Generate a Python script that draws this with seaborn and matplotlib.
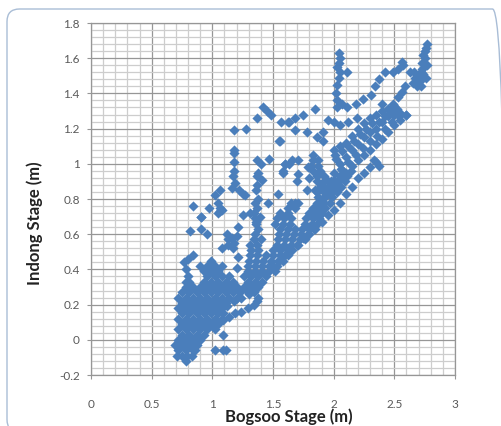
import numpy as np
import pandas as pd
import matplotlib.pyplot as plt
from matplotlib.patches import FancyBboxPatch
import seaborn as sns

x_ticks = [0, 0.5, 1, 1.5, 2, 2.5, 3]
x_tick_labels = ["0", "0.5", "1", "1.5", "2", "2.5", "3"]
y_ticks = [-0.2, 0, 0.2, 0.4, 0.6, 0.8, 1, 1.2, 1.4, 1.6, 1.8]
y_tick_labels = ["-0.2", "0", "0.2", "0.4", "0.6", "0.8", "1", "1.2", "1.4", "1.6", "1.8"]

row_y = [-0.12, -0.09, -0.06, -0.03, 0.0, 0.03, 0.06, 0.09, 0.12, 0.15, 0.18, 0.21, 0.24, 0.27, 0.30, 0.33,
         0.36, 0.39, 0.42, 0.45, 0.48, 0.51, 0.54, 0.57, 0.60, 0.63, 0.66, 0.69, 0.72, 0.75, 0.78, 0.81,
         0.84, 0.87, 0.90, 0.93, 0.96, 0.99, 1.02]
row_x = [
    [0.78],
    [0.71, 0.75, 0.79, 0.83],
    [0.72, 0.78, 0.84],
    [0.69, 0.75, 0.81, 0.87],
    [0.72, 0.78, 0.84, 0.90],
    [0.75, 0.81, 0.87, 0.93],
    [0.72, 0.78, 0.84, 0.90, 0.96, 1.02],
    [0.75, 0.81, 0.87, 0.93, 0.99, 1.05],
    [0.72, 0.78, 0.84, 0.90, 0.96, 1.02, 1.08],
    [0.75, 0.81, 0.87, 0.93, 0.99, 1.05, 1.09],
    [0.72, 0.78, 0.84, 0.90, 0.96, 1.02, 1.08],
    [0.75, 0.81, 0.87, 0.93, 0.99, 1.05, 1.11],
    [0.72, 0.78, 0.84, 0.90, 0.96, 1.02, 1.08, 1.14, 1.20],
    [0.75, 0.81, 0.87, 0.93, 0.99, 1.05, 1.11, 1.17, 1.23, 1.29],
    [0.78, 0.84, 0.90, 0.96, 1.02, 1.08, 1.14, 1.20, 1.26, 1.32, 1.38],
    [0.81, 0.93, 0.99, 1.05, 1.11, 1.17, 1.29, 1.35, 1.41],
    [0.96, 1.02, 1.08, 1.14, 1.26, 1.32, 1.38, 1.44],
    [0.93, 0.99, 1.05, 1.29, 1.35, 1.41, 1.47, 1.52],
    [0.96, 1.02, 1.08, 1.29, 1.35, 1.41, 1.47, 1.53],
    [0.99, 1.30, 1.36, 1.42, 1.48, 1.54, 1.58],
    [1.31, 1.37, 1.44, 1.50, 1.56, 1.62],
    [1.32, 1.38, 1.50, 1.56, 1.62, 1.66],
    [1.31, 1.37, 1.53, 1.59, 1.65, 1.71],
    [1.34, 1.40, 1.54, 1.60, 1.66, 1.72, 1.76],
    [1.35, 1.55, 1.61, 1.67, 1.73, 1.79],
    [1.38, 1.56, 1.62, 1.68, 1.74, 1.80, 1.84],
    [1.36, 1.52, 1.58, 1.64, 1.76, 1.82, 1.86],
    [1.35, 1.53, 1.59, 1.65, 1.77, 1.83, 1.88],
    [1.56, 1.62, 1.80, 1.86, 1.90],
    [1.62, 1.68, 1.83, 1.89, 1.93],
    [1.65, 1.71, 1.86, 1.92, 1.97],
    [1.87, 1.93, 1.99],
    [1.86, 1.92, 1.98, 2.03],
    [1.89, 1.95, 2.01, 2.06],
    [1.86, 1.92, 1.98, 2.04, 2.09],
    [1.86, 1.92, 2.05, 2.11],
    [1.83, 1.89, 2.08, 2.14],
    [1.81, 1.87],
    [1.83, 1.87],
]

# lower separate strand
low_x = [1.50, 1.55, 1.60, 1.65, 1.70, 1.75, 1.80, 1.85, 1.90, 1.95, 2.00, 2.05, 2.10, 2.15, 2.20, 2.25, 2.30, 2.35, 2.37, 2.33]
low_y = [0.42, 0.45, 0.48, 0.51, 0.54, 0.58, 0.60, 0.63, 0.67, 0.71, 0.74, 0.78, 0.83, 0.87, 0.92, 0.95, 0.98, 1.01, 0.99, 1.02]

# the loop near x = 1.2
loop_x = [1.09, 1.14, 1.19, 1.24, 1.29, 1.34, 1.37, 1.38, 1.12, 1.18, 1.24, 1.30, 1.34]
loop_y = [0.11, 0.13, 0.15, 0.16, 0.18, 0.20, 0.22, 0.24, 0.19, 0.22, 0.24, 0.26, 0.27]

# upper strands of the main band
band1_x = [1.85, 1.90, 1.95, 2.00, 2.05, 2.10, 2.15, 2.20, 2.25, 2.30, 2.35, 2.40, 2.45, 2.50, 2.55]
band1_y = [0.85, 0.88, 0.90, 0.95, 1.00, 1.04, 1.08, 1.11, 1.15, 1.18, 1.20, 1.24, 1.27, 1.28, 1.29]
band2_x = [1.90, 1.95, 2.00, 2.05, 2.10, 2.15, 2.20, 2.25, 2.30, 2.35, 2.40, 2.45, 2.50, 2.55, 2.60]
band2_y = [0.80, 0.84, 0.88, 0.92, 0.95, 0.99, 1.02, 1.05, 1.08, 1.11, 1.14, 1.18, 1.22, 1.25, 1.28]
band3_x = [2.00, 2.05, 2.10, 2.15, 2.20, 2.25, 2.30, 2.35, 2.40, 2.45, 2.50]
band3_y = [1.08, 1.10, 1.12, 1.16, 1.20, 1.23, 1.26, 1.28, 1.30, 1.31, 1.33]
band4_x = [2.02, 2.07, 2.12, 2.17, 2.22, 2.27, 2.32, 2.37, 2.42, 2.47, 2.52]
band4_y = [1.03, 1.07, 1.10, 1.13, 1.17, 1.20, 1.23, 1.24, 1.27, 1.30, 1.31]
band5_x = [2.00, 2.06, 2.12, 2.18, 2.24, 2.30, 2.36, 2.42, 2.48, 2.54]
band5_y = [0.91, 0.97, 1.01, 1.05, 1.09, 1.13, 1.16, 1.20, 1.24, 1.27]

# column at x = 2.04 and the branch up to the top right corner
col_x = [2.04, 2.05, 2.04, 2.05, 2.11, 2.03, 2.02, 2.03, 2.03, 2.11, 2.07, 2.04, 2.03]
col_y = [1.63, 1.60, 1.57, 1.52, 1.52, 1.45, 1.40, 1.36, 1.32, 1.32, 1.34, 1.49, 1.55]
top_x = [1.95, 2.00, 2.05, 2.12, 2.19, 2.18, 2.24, 2.31, 2.34, 2.37, 2.42, 2.49, 2.53, 2.56, 2.57, 2.77, 2.74, 2.73, 2.77, 2.75,
         2.67, 2.71, 2.63, 2.76, 2.69, 2.65, 2.72, 2.59, 2.56, 2.53, 2.49, 2.60, 2.52, 2.45, 2.40,
         2.66, 2.70, 2.74, 2.68, 2.72, 2.75, 2.76, 2.73]
top_y = [1.25, 1.24, 1.22, 1.24, 1.26, 1.34, 1.37, 1.39, 1.44, 1.48, 1.52, 1.52, 1.54, 1.58, 1.56, 1.68, 1.62, 1.57, 1.56, 1.64,
         1.49, 1.47, 1.52, 1.49, 1.44, 1.46, 1.52, 1.44, 1.41, 1.38, 1.34, 1.28, 1.30, 1.31, 1.34,
         1.52, 1.50, 1.51, 1.46, 1.44, 1.60, 1.66, 1.54]

# scattered points on the left and in the middle
iso_x = [0.84, 0.91, 0.97, 1.02, 1.06, 1.05, 1.06, 1.08, 1.05, 1.18, 1.28, 1.18, 1.18, 1.18, 1.18, 1.17, 1.19, 1.16, 1.22, 1.25,
         1.27, 1.37, 1.42, 1.45, 1.48, 1.57, 1.63, 1.55, 1.47, 1.37, 1.40, 1.38, 1.37, 1.41, 1.37, 1.36, 1.60, 1.63, 1.58, 1.54,
         1.46, 1.35, 1.37, 1.34, 1.39, 1.31, 1.25, 1.36, 1.38, 1.62, 1.68, 1.75, 1.85, 1.68, 1.78, 1.91, 1.86, 1.91, 1.56, 1.58,
         1.60, 1.66, 1.71, 1.71, 1.70, 1.80, 1.78, 1.79, 1.83, 2.01, 1.68, 0.91, 0.82, 0.91, 0.96, 1.21, 1.20, 1.13, 1.08, 1.13,
         1.21, 1.20, 1.06, 1.02, 1.09, 1.11, 1.09, 0.86, 0.90, 0.77, 0.80, 0.84, 0.78, 0.80, 0.78, 1.16, 1.18, 1.17, 1.12]
iso_y = [0.76, 0.70, 0.75, 0.82, 0.85, 0.78, 0.75, 0.74, 0.72, 1.19, 1.20, 1.08, 1.06, 1.01, 0.96, 0.93, 0.89, 0.86, 0.85, 0.83,
         0.82, 1.26, 1.32, 1.30, 1.28, 1.24, 1.24, 1.13, 1.03, 1.02, 1.00, 0.95, 0.93, 0.91, 0.88, 0.85, 1.00, 1.00, 0.95, 0.83,
         0.78, 0.78, 0.75, 0.72, 0.70, 0.72, 0.71, 0.67, 0.80, 1.24, 1.26, 1.28, 1.31, 1.19, 1.18, 1.18, 1.15, 1.13, 1.13, 0.96,
         1.00, 1.02, 1.02, 0.94, 0.90, 0.92, 0.85, 0.98, 1.05, 1.05, 0.78, 0.70, 0.62, 0.63, 0.60, 0.64, 0.59, 0.57, 0.52, 0.54,
         0.47, 0.41, 0.73, -0.06, -0.06, -0.06, 0.03, -0.06, 0.42, 0.44, 0.46, 0.48, 0.40, 0.36, 0.33, 0.58, 0.55, 0.52, 0.60]

xs = [np.array(low_x), np.array(loop_x), np.array(band1_x), np.array(band2_x), np.array(band3_x),
      np.array(band4_x), np.array(band5_x), np.array(col_x), np.array(top_x), np.array(iso_x)]
ys = [np.array(low_y), np.array(loop_y), np.array(band1_y), np.array(band2_y), np.array(band3_y),
      np.array(band4_y), np.array(band5_y), np.array(col_y), np.array(top_y), np.array(iso_y)]
for yy, row in zip(row_y, row_x):
    xs.append(np.array(row))
    ys.append(np.full(len(row), yy))

stages = pd.DataFrame({"bogsoo": np.concatenate(xs), "indong": np.concatenate(ys)})

sns.set_style("white")
plt.rcParams["font.family"] = ["Lato", "DejaVu Sans"]

fig = plt.figure(figsize=(5.01, 4.26), dpi=100)
W, H = 501.0, 426.0

# rounded frame behind the chart, it runs off the right and bottom edges
frame = FancyBboxPatch((7 / W, -6 / H), 498 / W, 423 / H, transform=fig.transFigure,
                       boxstyle="round,pad=0,rounding_size=0.025", mutation_aspect=W / H,
                       fc="none", ec="#A9BDD6", lw=1.0, zorder=-1)
fig.add_artist(frame)

ax = fig.add_axes([91 / W, 1 - 375 / H, 364 / W, 352 / H])
sns.scatterplot(data=stages, x="bogsoo", y="indong", marker="D", s=27, color="#4A7EBB",
                linewidth=0, ax=ax, zorder=3, clip_on=False)

ax.set_xlim(0, 3)
ax.set_ylim(-0.2, 1.8)
ax.set_xticks(x_ticks)
ax.set_xticklabels(x_tick_labels)
ax.set_yticks(y_ticks)
ax.set_yticklabels(y_tick_labels)
ax.set_xticks([v / 10 for v in range(0, 31)], minor=True)
ax.set_yticks([v / 25 for v in range(-5, 46)], minor=True)
ax.set_axisbelow(True)
ax.grid(which="minor", color="#CDCDCD", lw=0.9)
ax.grid(which="major", color="#969696", lw=0.9)
ax.patch.set_alpha(0)
for s in ax.spines.values():
    s.set_color("#969696")
    s.set_linewidth(0.9)
ax.tick_params(axis="x", which="major", length=3, color="#969696", pad=14, labelsize=8.5, labelcolor="#595959", bottom=True)
ax.tick_params(axis="y", which="major", length=3, color="#969696", pad=5, labelsize=8.5, labelcolor="#595959", left=True)
ax.tick_params(which="minor", length=0)

ax.set_xlabel("Bogsoo Stage (m)", fontsize=12, fontweight="bold", color="#222222")
ax.set_ylabel("Indong Stage (m)", fontsize=12, fontweight="bold", color="#222222")
ax.xaxis.set_label_coords(1 - (455 - 289) / 364, -(417 - 375) / 352, transform=ax.transAxes)
ax.yaxis.set_label_coords(-(91 - 35) / 364, (375 - 223) / 352, transform=ax.transAxes)
ax.xaxis.label.set_verticalalignment("center")
ax.yaxis.label.set_verticalalignment("center")

fig.savefig("out.png", dpi=100)
